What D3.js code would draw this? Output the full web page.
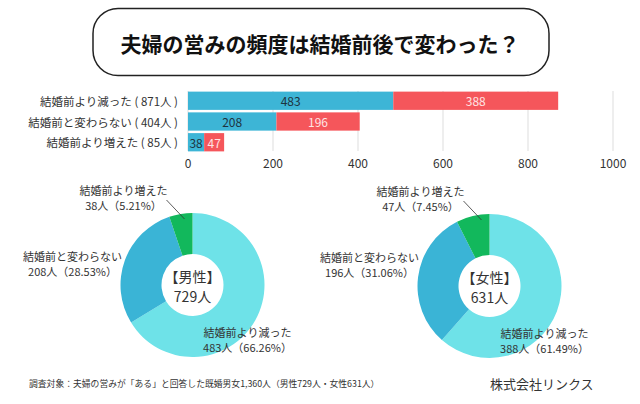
<!DOCTYPE html>
<meta charset="utf-8">
<style>
  body { margin: 0; background: #fff; }
  text { font-family: "Noto Sans CJK JP", "Noto Sans", sans-serif; fill: #333; }
</style>
<svg width="640" height="404"></svg>
<script src="https://d3js.org/d3.v7.min.js"></script>
<script>

var title = "夫婦の営みの頻度は結婚前後で変わった？";
var categories = ["結婚前より減った", "結婚前と変わらない", "結婚前より増えた"];
var male = [483, 208, 38];
var female = [388, 196, 47];
var xTicks = [0, 200, 400, 600, 800, 1000];
var groups = ["男性", "女性"];
var footnote = "調査対象：夫婦の営みが「ある」と回答した既婚男女1,360人（男性729人・女性631人）";
var company = "株式会社リンクス";

var svg = d3.select("svg");

// title box
svg.append("rect")
    .attr("x", 93).attr("y", 8.5)
    .attr("width", 456).attr("height", 67)
    .attr("rx", 25)
    .attr("fill", "#fff")
    .attr("stroke", "#222")
    .attr("stroke-width", 1.5);

svg.append("text")
    .attr("x", 320).attr("y", 43)
    .attr("text-anchor", "middle")
    .attr("dominant-baseline", "central")
    .attr("font-size", 21)
    .attr("font-weight", "bold")
    .style("fill", "#111")
    .text(title);

// stacked bars
var x = d3.scaleLinear().domain([0, 1000]).range([188, 613]);
var y = d3.scaleBand().domain(categories).range([91, 152])
    .paddingInner(0.12).paddingOuter(0.03);

svg.append("g").selectAll("line")
  .data(xTicks)
  .enter().append("line")
    .attr("x1", function(d) { return x(d); })
    .attr("x2", function(d) { return x(d); })
    .attr("y1", 91).attr("y2", 151)
    .attr("stroke", "#ddd");

svg.append("g").selectAll("text")
  .data(xTicks)
  .enter().append("text")
    .attr("x", function(d) { return x(d); })
    .attr("y", 162)
    .attr("text-anchor", "middle")
    .attr("dominant-baseline", "central")
    .attr("font-size", 12)
    .text(function(d) { return d; });

var rows = categories.map(function(c, i) {
  return {cat: c, m: male[i], f: female[i]};
});

var row = svg.append("g").selectAll("g")
  .data(rows)
  .enter().append("g");

row.append("rect")
    .attr("x", x(0))
    .attr("y", function(d) { return y(d.cat); })
    .attr("width", function(d) { return x(d.m) - x(0); })
    .attr("height", y.bandwidth())
    .attr("fill", "#3db5d6");

row.append("rect")
    .attr("x", function(d) { return x(d.m); })
    .attr("y", function(d) { return y(d.cat); })
    .attr("width", function(d) { return x(d.m + d.f) - x(d.m); })
    .attr("height", y.bandwidth())
    .attr("fill", "#f5565b");

row.append("text")
    .attr("x", function(d) { return (x(0) + x(d.m)) / 2; })
    .attr("y", function(d) { return y(d.cat) + y.bandwidth() / 2; })
    .attr("text-anchor", "middle")
    .attr("dominant-baseline", "central")
    .attr("font-size", 12)
    .style("fill", "#1d3340")
    .text(function(d) { return d.m; });

row.append("text")
    .attr("x", function(d) { return (x(d.m) + x(d.m + d.f)) / 2; })
    .attr("y", function(d) { return y(d.cat) + y.bandwidth() / 2; })
    .attr("text-anchor", "middle")
    .attr("dominant-baseline", "central")
    .attr("font-size", 12)
    .style("fill", "#ffe4e4")
    .text(function(d) { return d.f; });

row.append("text")
    .attr("x", 178)
    .attr("y", function(d) { return y(d.cat) + y.bandwidth() / 2; })
    .attr("text-anchor", "end")
    .attr("dominant-baseline", "central")
    .attr("font-size", 11.5)
    .text(function(d) { return d.cat + " ( " + (d.m + d.f) + "人 )"; });

// donuts
var sliceColors = ["#6ee2e8", "#3ab4d6", "#12b85c"];
var labelPos = [
  {dx: 55, dy: 48},
  {dx: -120, dy: -28},
  {dx: -69, dy: -94}
];
var centers = [[192.5, 285], [489.5, 286]];

var pie = d3.pie().sort(null).value(function(d) { return d; });
var arc = d3.arc().innerRadius(31).outerRadius(72);

[male, female].forEach(function(values, gi) {
  var total = d3.sum(values);
  var g = svg.append("g")
      .attr("transform", "translate(" + centers[gi] + ")");

  g.selectAll("path")
    .data(pie(values))
    .enter().append("path")
      .attr("d", arc)
      .attr("fill", function(d, i) { return sliceColors[i]; });

  g.append("text")
      .attr("y", -9)
      .attr("text-anchor", "middle")
      .attr("dominant-baseline", "central")
      .attr("font-size", 14)
      .text("【" + groups[gi] + "】");

  g.append("text")
      .attr("y", 11)
      .attr("text-anchor", "middle")
      .attr("dominant-baseline", "central")
      .attr("font-size", 14)
      .text(total + "人");

  values.forEach(function(v, i) {
    var t = g.append("text")
        .attr("text-anchor", "middle")
        .attr("font-size", 11);
    t.append("tspan")
        .attr("x", labelPos[i].dx)
        .attr("y", labelPos[i].dy + 4)
        .text(categories[i]);
    t.append("tspan")
        .attr("x", labelPos[i].dx)
        .attr("y", labelPos[i].dy + 19)
        .text(v + "人（" + (v / total * 100).toFixed(2) + "%）");
  });

  g.append("line")
      .attr("x1", -26).attr("y1", -85)
      .attr("x2", -8).attr("y2", -66)
      .attr("stroke", "#333")
      .attr("stroke-width", 0.8);
});

// footer
svg.append("text")
    .attr("x", 29).attr("y", 383)
    .attr("dominant-baseline", "central")
    .attr("font-size", 8.8)
    .text(footnote);

svg.append("text")
    .attr("x", 490).attr("y", 383)
    .attr("dominant-baseline", "central")
    .attr("font-size", 13)
    .text(company);

</script>
